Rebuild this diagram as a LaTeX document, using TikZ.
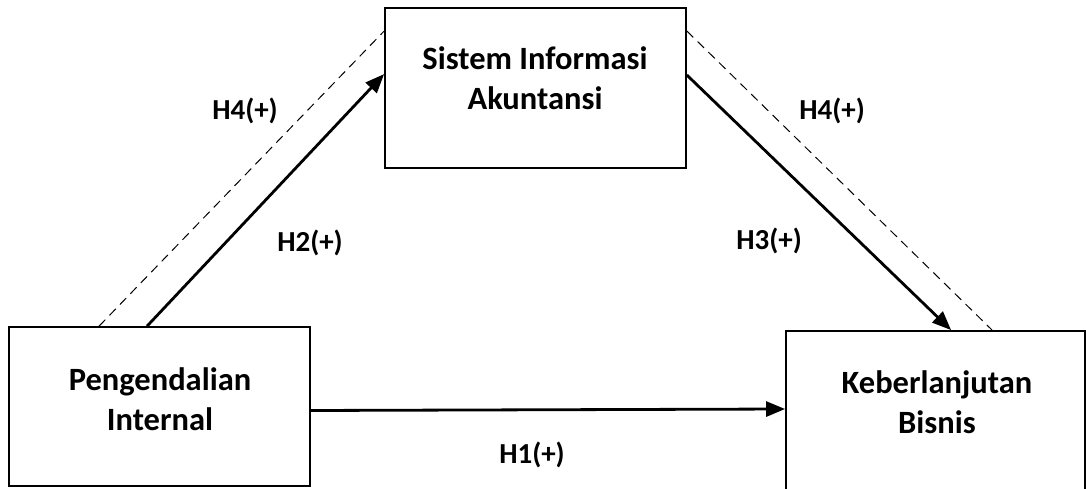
\documentclass[tikz,border=0pt]{standalone}
\usepackage{fontspec}
\setmainfont{Carlito}
\usetikzlibrary{arrows.meta}
\begin{document}
\begin{tikzpicture}[x=1pt,y=-1pt,
  box/.style={draw,line width=1.8pt,rectangle,inner sep=0pt},
  lbl/.style={font=\fontsize{32.5}{40}\selectfont\bfseries,align=center,inner sep=0pt},
  hyp/.style={font=\fontsize{29}{32}\selectfont\bfseries,inner sep=0pt},
  arr/.style={line width=2.8pt,-{Triangle[length=19pt,width=15pt]}},
  dsh/.style={line width=1pt,dash pattern=on 9pt off 6pt}]
\useasboundingbox (0,0) rectangle (1086,489);
\clip (0,0) rectangle (1086,489);
% boxes
\node[box,minimum width=301pt,minimum height=160pt] (sia) at (535.5,88) {};
\node[box,minimum width=301pt,minimum height=159pt] (pi) at (159.5,406.5) {};
\node[box,minimum width=299pt,minimum height=180pt] (kb) at (935.5,421) {};
% box texts
\node[lbl] (siat) at (535,78) {Sistem Informasi\\Akuntansi};
\node[lbl] (pit) at (160,399) {Pengendalian\\Internal};
\node[lbl] (kbt) at (937,402) {Keberlanjutan\\Bisnis};
% connector end points on box borders
\coordinate (piA) at ([xshift=139pt]pi.north west);
\coordinate (piD) at ([xshift=91pt]pi.north west);
\coordinate (piR) at ([yshift=-4pt]pi.east);
\coordinate (siaL) at ([yshift=-67pt]sia.north west);
\coordinate (siaLD) at ([yshift=-24pt]sia.north west);
\coordinate (siaR) at ([yshift=-68pt]sia.north east);
\coordinate (siaRD) at ([yshift=-24pt]sia.north east);
\coordinate (kbA) at ([xshift=166pt]kb.north west);
\coordinate (kbD) at ([xshift=207pt]kb.north west);
\coordinate (kbL) at ([yshift=12pt]kb.west);
% connectors
\draw[dsh] (piD) -- (siaLD);
\draw[arr] (piA) -- (siaL);
\draw[arr] (siaR) -- (kbA);
\draw[dsh] (siaRD) -- (kbD);
\draw[arr] (piR) -- (kbL);
% hypothesis labels
\node[hyp] (h4a) at (245,111) {H4(+)};
\node[hyp] (h2) at (310,243) {H2(+)};
\node[hyp] (h4b) at (832,111) {H4(+)};
\node[hyp] (h3) at (769,241) {H3(+)};
\node[hyp] (h1) at (532,455) {H1(+)};
\end{tikzpicture}
\end{document}
